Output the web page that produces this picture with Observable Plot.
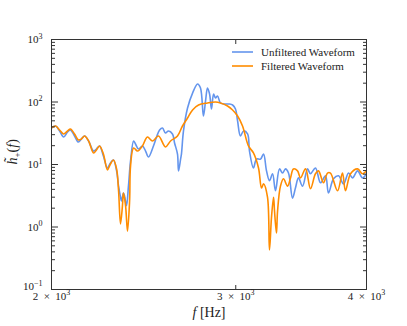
<!DOCTYPE html>
<html><head><meta charset="utf-8">
<script src="https://cdn.jsdelivr.net/npm/d3@7"></script>
<script src="https://cdn.jsdelivr.net/npm/@observablehq/plot@0.6"></script>
<style>
body{margin:0;background:#fff;}
svg text{font-family:"Liberation Serif","DejaVu Serif",serif;}
</style></head><body><div id="chart"></div>
<script>
const unfilteredFreq = [2000,2018,2036,2054,2072,2085,2104,2122,2136,2151,2170,2194,2208,2223,2242,2262,2277,2292,2308,2318,2328,2333,2343,2349,2359,2369,2380,2396,2406,2422,2443,2460,2476,2503,2520,2537,2553,2570,2587,2610,2622,2639,2645,2657,2662,2674,2698,2728,2758,2776,2794,2807,2819,2832,2844,2857,2869,2882,2901,2933,2959,2979,2998,3012,3031,3052,3079,3092,3119,3140,3168,3189,3210,3231,3253,3274,3303,3325,3347,3369,3399,3421,3444,3475,3513,3536,3575,3615,3655,3679,3720,3761,3803,3845,3879,3922,3965,4000];
const unfilteredAmp = [38.4,41.3,34.4,27.5,33.1,35.6,28.6,22.9,25.6,28.6,23.8,16.4,17.7,19.8,13.7,8.8,10.6,11.8,7.9,4.5,3.0,2.6,3.5,3.1,2.2,4.5,11.4,23.8,21.3,17.7,19.8,16.4,13.2,19.8,27.5,35.6,38.4,31.9,34.4,30.8,22.1,14.7,7.9,12.2,14.7,34.4,80.2,139,194,167,59.7,104,167,134,77.3,134,116,125,96.4,92.9,92.9,89.5,77.3,49.7,28.6,34.4,30.8,16.4,8.8,12.2,12.2,14.7,7.9,5.5,7.1,3.8,8.5,7.3,8.5,7.3,2.9,4.2,6.1,4.5,8.5,7.1,8.8,5.1,6.6,3.5,5.9,6.6,4.9,7.3,6.1,7.9,6.1,7.1];
const filteredFreq = [2000,2018,2036,2054,2072,2085,2104,2122,2136,2151,2170,2194,2208,2223,2242,2262,2277,2292,2308,2318,2328,2338,2343,2354,2364,2375,2380,2396,2417,2443,2470,2498,2531,2570,2599,2639,2668,2698,2728,2764,2819,2869,2901,2946,2979,3012,3045,3085,3119,3154,3175,3189,3217,3231,3245,3260,3267,3281,3289,3310,3332,3362,3384,3406,3437,3459,3498,3536,3575,3599,3639,3671,3695,3753,3794,3819,3862,3922,3965,4000];
const filteredAmp = [38.4,41.3,35.6,30.8,34.4,37.0,30.8,24.7,25.6,28.6,23.8,15.3,17.1,19.8,14.7,8.2,10.2,11.8,8.5,3.8,1.12,2.2,3.5,2.2,0.86,2.6,9.5,18.4,16.4,19.8,27.5,23.8,28.6,19.1,23.8,28.6,41.3,55.5,74.5,89.5,96.4,100,96.4,86.3,74.5,59.7,41.3,19.8,15.3,8.8,4.2,4.9,3.0,0.43,1.39,3.0,1.8,0.80,1.8,4.5,5.9,4.5,6.1,8.5,7.9,6.1,8.5,4.1,7.1,7.9,5.1,7.3,7.3,3.8,7.3,3.8,7.1,8.5,7.1,7.9];
const seriesNames = ["Unfiltered Waveform", "Filtered Waveform"];
const seriesColors = ["#6495ed", "#ff8c00"];
const yMajorTicks = [0.1, 1, 10, 100, 1000];
const yTickLabels = ["10^\u22121", "10^0", "10^1", "10^2", "10^3"];
const xTicks = [2000, 3000, 4000];
const xTickLabels = ["2\u2002\u00d7\u200210^3", "3\u2002\u00d7\u200210^3", "4\u2002\u00d7\u200210^3"];
const xLabel = "f [Hz]";
const yLabel = "h\u0303_+(f)";

const yMinorTicks = [];
for (const m of yMajorTicks.slice(0, -1)) for (let k = 2; k <= 9; k++) yMinorTicks.push(+(m * k).toPrecision(3));

const unfiltered = unfilteredFreq.map((f, i) => ({f, h: unfilteredAmp[i]}));
const filtered = filteredFreq.map((f, i) => ({f, h: filteredAmp[i]}));
const ink = "#333";

const plot = Plot.plot({
  width: 407, height: 326,
  marginLeft: 51, marginRight: 41, marginTop: 39, marginBottom: 37,
  style: {fontFamily: "Liberation Serif, DejaVu Serif, serif", fontSize: "11px", background: "#fff", color: "#222"},
  x: {type: "log", domain: [2000, 4000], label: null},
  y: {type: "log", domain: [0.1, 1000], label: null},
  marks: [
    Plot.line(unfiltered, {x: "f", y: "h", stroke: seriesColors[0], strokeWidth: 1.6, curve: "catmull-rom", clip: true}),
    Plot.line(filtered, {x: "f", y: "h", stroke: seriesColors[1], strokeWidth: 1.6, curve: "catmull-rom", clip: true}),
    Plot.frame({stroke: ink, strokeWidth: 1}),
    Plot.axisY(yMajorTicks, {anchor: "left", tickSize: 7, dx: 7, fill: "none", stroke: ink, label: null}),
    Plot.axisY(yMajorTicks, {anchor: "right", tickSize: 7, dx: -7, fill: "none", stroke: ink, label: null}),
    Plot.axisY(yMinorTicks, {anchor: "left", tickSize: 4, dx: 4, fill: "none", stroke: ink, label: null}),
    Plot.axisY(yMinorTicks, {anchor: "right", tickSize: 4, dx: -4, fill: "none", stroke: ink, label: null}),
    Plot.axisX(xTicks, {anchor: "bottom", tickSize: 4, dy: -4, fill: "none", stroke: ink, label: null}),
    Plot.axisX(xTicks, {anchor: "top", tickSize: 4, dy: 4, fill: "none", stroke: ink, label: null}),
    Plot.axisY(yMajorTicks.slice(1), {anchor: "left", tickSize: 0, tickPadding: 9, stroke: "none", fill: "#222", label: null,
      tickFormat: d => yTickLabels[yMajorTicks.indexOf(d)]}),
    Plot.axisY(yMajorTicks.slice(0, 1), {anchor: "left", tickSize: 0, tickPadding: 9, dy: -3, stroke: "none", fill: "#222", label: null,
      tickFormat: d => yTickLabels[yMajorTicks.indexOf(d)]}),
    Plot.text(xTicks, {x: d => d, frameAnchor: "bottom", dy: 10, fill: "#222", fontSize: 11,
      text: d => xTickLabels[xTicks.indexOf(d)]}),
    Plot.text([yLabel], {frameAnchor: "left", dx: -39, rotate: -90, fontSize: 14, fill: "#222"}),
    Plot.text([xLabel], {frameAnchor: "bottom", dy: 27, fontSize: 14, fill: "#222"})
  ]
});

const svg = d3.select(plot);
svg.selectAll("text").each(function() {
  const t = d3.select(this);
  const s = this.textContent;
  if (s === yLabel) {
    t.text(null);
    t.append("tspan").attr("font-style", "italic").text("h\u0303");
    t.append("tspan").attr("font-size", "9px").attr("dy", 3).text("+");
    t.append("tspan").attr("dy", -3).text("(");
    t.append("tspan").attr("font-style", "italic").text("f");
    t.append("tspan").text(")");
  } else if (s === xLabel) {
    t.text(null);
    t.append("tspan").attr("font-style", "italic").text("f");
    t.append("tspan").text(" [Hz]");
  } else if (s.includes("^")) {
    const [base, exp] = s.split("^");
    t.text(null);
    t.append("tspan").text(base);
    t.append("tspan").attr("font-size", "8px").attr("dy", -4.5).text(exp);
  }
});

// legend
const lg = svg.append("g").attr("font-size", 11).attr("fill", "#222").attr("text-anchor", "start");
seriesNames.forEach((name, i) => {
  const y = 52 + i * 14;
  lg.append("line").attr("x1", 232).attr("x2", 253).attr("y1", y).attr("y2", y)
    .attr("stroke", seriesColors[i]).attr("stroke-width", 1.6);
  lg.append("text").attr("x", 261).attr("y", y).attr("dy", "0.33em").text(name);
});

document.getElementById("chart").appendChild(plot);
</script></body></html>
